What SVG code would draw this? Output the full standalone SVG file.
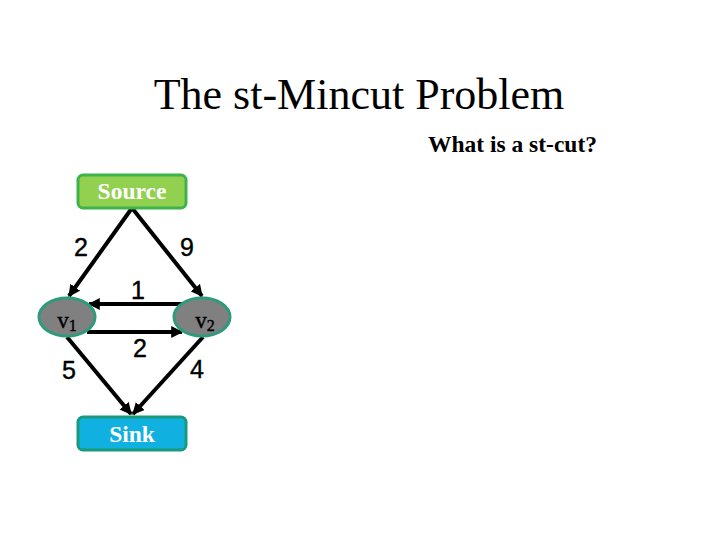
<svg xmlns="http://www.w3.org/2000/svg" width="720" height="540" viewBox="0 0 720 540">
<style>
.title{font-family:"Liberation Serif",serif;font-size:44px;fill:#000}
.sub{font-family:"Liberation Serif",serif;font-size:23.5px;font-weight:bold;fill:#000}
.box{font-family:"Liberation Serif",serif;font-size:23.5px;font-weight:bold;fill:#fff}
.vl{font-family:"Liberation Serif",serif;font-size:23px;fill:#000;stroke:#000;stroke-width:0.4}
.vs{font-size:16px}
.num{font-family:"Liberation Sans",sans-serif;font-size:25px;fill:#000;stroke:#000;stroke-width:0.4}
.e{stroke:#000;stroke-width:4;fill:none;marker-end:url(#ah)}
.node{stroke:#2e9a7c;stroke-width:3;fill:#808080}
</style>
<defs>
<marker id="ah" viewBox="0 0 10 10" refX="9" refY="5" markerWidth="3" markerHeight="3" orient="auto" markerUnits="strokeWidth">
<path d="M0,0 L10,5 L0,10 z" fill="#000"/>
</marker>
</defs>
<text class="title" x="359" y="109" text-anchor="middle">The st-Mincut Problem</text>
<text class="sub" x="597" y="152" text-anchor="end">What is a st-cut?</text>
<g id="connectors">
<line class="e" x1="132" y1="208" x2="69" y2="296"/>
<line class="e" x1="132" y1="208" x2="202" y2="296"/>
<line class="e" x1="183" y1="304" x2="89" y2="304"/>
<line class="e" x1="87" y1="332" x2="182" y2="332"/>
<line class="e" x1="67" y1="337" x2="131" y2="414"/>
<line class="e" x1="203" y1="337" x2="133" y2="414"/>
<text class="num" x="81" y="256" text-anchor="middle">2</text>
<text class="num" x="187" y="256" text-anchor="middle">9</text>
<text class="num" x="138" y="299" text-anchor="middle">1</text>
<text class="num" x="140" y="357" text-anchor="middle">2</text>
<text class="num" x="69" y="379" text-anchor="middle">5</text>
<text class="num" x="197" y="378" text-anchor="middle">4</text>
</g>
<g id="source">
<rect x="78" y="175" width="108" height="33" rx="5" fill="#92d050" stroke="#3cb44b" stroke-width="3"/>
<text class="box" x="132" y="199" text-anchor="middle" fill="#eef8e0">Source</text>
</g>
<g id="v1">
<ellipse class="node" cx="67" cy="317" rx="28" ry="19"/>
<text class="vl" x="67" y="328" text-anchor="middle">v<tspan class="vs" dy="3">1</tspan></text>
</g>
<g id="v2">
<ellipse class="node" cx="202" cy="317" rx="28" ry="19"/>
<text class="vl" x="205" y="328" text-anchor="middle">v<tspan class="vs" dy="3">2</tspan></text>
</g>
<g id="sink">
<rect x="78" y="417" width="108" height="33" rx="5" fill="#10b0e0" stroke="#1a9a7c" stroke-width="3"/>
<text class="box" x="132" y="442" text-anchor="middle">Sink</text>
</g>
</svg>
